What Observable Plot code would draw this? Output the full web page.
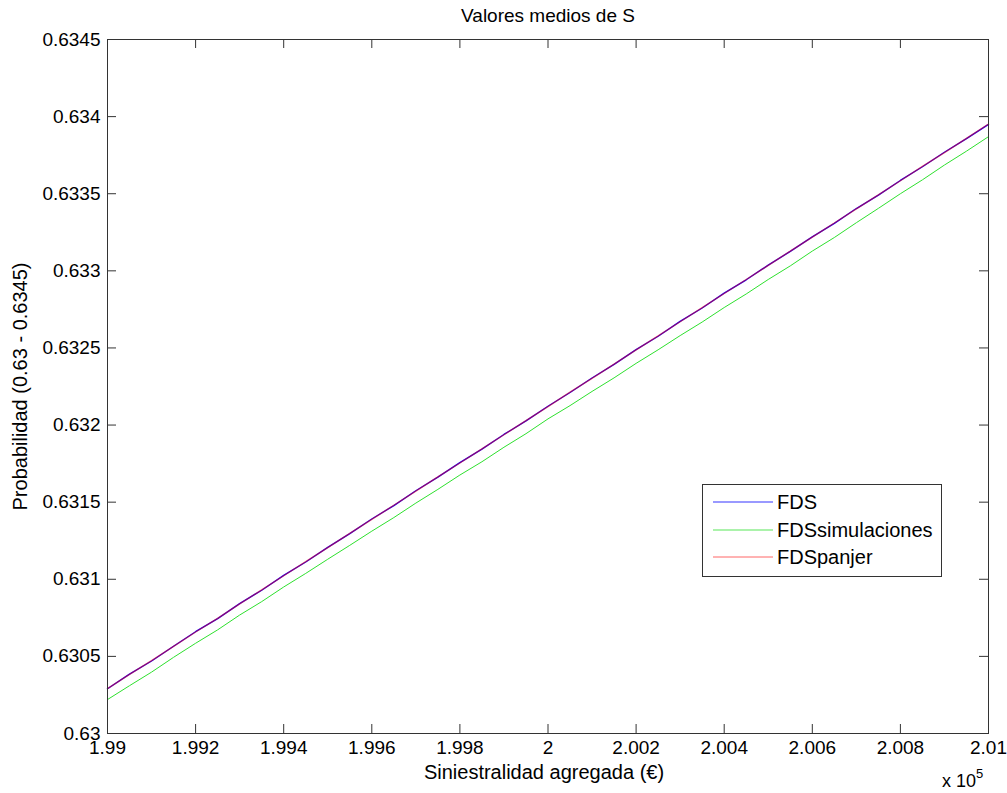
<!DOCTYPE html>
<html>
<head>
<meta charset="utf-8">
<script src="https://cdn.jsdelivr.net/npm/d3@7"></script>
<script src="https://cdn.jsdelivr.net/npm/@observablehq/plot@0.6"></script>
<style>
  html, body { margin: 0; padding: 0; background: #fff; }
</style>
</head>
<body>
<div id="chart"></div>
<script>
// ---- data ----
const title = "Valores medios de S";
const xLabel = "Siniestralidad agregada (€)";
const yLabel = "Probabilidad (0.63 - 0.6345)";
const seriesNames = ["FDS", "FDSsimulaciones", "FDSpanjer"];
const seriesColors = ["#0000ff", "#2ee02e", "#ff0000"];

const siniestralidad = [
  199000, 199050, 199100, 199150, 199200, 199250, 199300, 199350, 199400, 199450,
  199500, 199550, 199600, 199650, 199700, 199750, 199800, 199850, 199900, 199950,
  200000, 200050, 200100, 200150, 200200, 200250, 200300, 200350, 200400, 200450,
  200500, 200550, 200600, 200650, 200700, 200750, 200800, 200850, 200900, 200950,
  201000
];
const fds = [
  0.630290, 0.630385, 0.630470, 0.630566, 0.630660, 0.630745, 0.630842, 0.630929, 0.631025, 0.631112,
  0.631207, 0.631296, 0.631391, 0.631478, 0.631574, 0.631662, 0.631756, 0.631844, 0.631939, 0.632027,
  0.632122, 0.632211, 0.632305, 0.632393, 0.632489, 0.632576, 0.632672, 0.632759, 0.632855, 0.632942,
  0.633037, 0.633126, 0.633220, 0.633308, 0.633404, 0.633491, 0.633586, 0.633675, 0.633769, 0.633857,
  0.633950
];
const fdsSimulaciones = [
  0.630220, 0.630310, 0.630398, 0.630494, 0.630585, 0.630672, 0.630768, 0.630855, 0.630950, 0.631038,
  0.631130, 0.631220, 0.631312, 0.631400, 0.631494, 0.631583, 0.631676, 0.631762, 0.631856, 0.631944,
  0.632040, 0.632126, 0.632218, 0.632306, 0.632400, 0.632488, 0.632580, 0.632668, 0.632762, 0.632850,
  0.632944, 0.633032, 0.633128, 0.633216, 0.633312, 0.633405, 0.633500, 0.633590, 0.633686, 0.633776,
  0.633870
];
const fdsPanjer = [
  0.630291, 0.630383, 0.630472, 0.630565, 0.630658, 0.630747, 0.630840, 0.630931, 0.631023, 0.631114,
  0.631205, 0.631298, 0.631389, 0.631480, 0.631572, 0.631664, 0.631754, 0.631846, 0.631937, 0.632029,
  0.632120, 0.632213, 0.632303, 0.632395, 0.632487, 0.632578, 0.632670, 0.632761, 0.632853, 0.632944,
  0.633035, 0.633128, 0.633218, 0.633310, 0.633402, 0.633493, 0.633584, 0.633677, 0.633767, 0.633859,
  0.633952
];
const xTicks = [199000, 199200, 199400, 199600, 199800, 200000, 200200, 200400, 200600, 200800, 201000];
const yTicks = [0.63, 0.6305, 0.631, 0.6315, 0.632, 0.6325, 0.633, 0.6335, 0.634, 0.6345];
const xDomain = [199000, 201000];
const yDomain = [0.63, 0.6345];

// ---- build ----
const W = 1007, H = 793;
const mT = 39, mR = 19, mB = 60, mL = 107;
const fw = W - mL - mR, fh = H - mT - mB;
const tickLen = 9;
const font = "'Liberation Sans', Arial, Helvetica, sans-serif";
const axisColor = "#333";

const rows = (ys) => siniestralidad.map((x, i) => ({x, y: ys[i]}));
const fmtX = d => String(+(d / 1e5).toFixed(3));
const fmtY = d => String(+d.toFixed(4));

const chart = Plot.plot({
  width: W, height: H,
  marginTop: mT, marginRight: mR, marginBottom: mB, marginLeft: mL,
  style: {fontFamily: font, fontSize: "19px", color: "#000", background: "#fff"},
  x: {domain: xDomain, label: null},
  y: {domain: yDomain, label: null},
  marks: [
    Plot.axisX({ticks: xTicks, tickFormat: fmtX, tickSize: 0, tickPadding: 7, fontSize: 19, label: null}),
    Plot.axisY({ticks: yTicks, tickFormat: fmtY, tickSize: 0, tickPadding: 7, fontSize: 19, label: null}),
    Plot.tickX(xTicks, {x: d => d, insetTop: fh - tickLen, stroke: axisColor}),
    Plot.tickX(xTicks, {x: d => d, insetBottom: fh - tickLen, stroke: axisColor}),
    Plot.tickY(yTicks, {y: d => d, insetRight: fw - tickLen, stroke: axisColor}),
    Plot.tickY(yTicks, {y: d => d, insetLeft: fw - tickLen, stroke: axisColor}),
    Plot.line(rows(fds), {x: "x", y: "y", stroke: seriesColors[0], strokeWidth: 1.4}),
    Plot.line(rows(fdsSimulaciones), {x: "x", y: "y", stroke: seriesColors[1], strokeWidth: 1}),
    Plot.line(rows(fdsPanjer), {x: "x", y: "y", stroke: seriesColors[2], strokeWidth: 1.4, strokeOpacity: 0.5}),
    Plot.frame({stroke: axisColor}),
    Plot.text([title], {frameAnchor: "top", lineAnchor: "bottom", dy: -18, fontSize: 19, fill: "#000"}),
    Plot.text([xLabel], {frameAnchor: "bottom", lineAnchor: "top", dy: 31, dx: -4, fontSize: 20, fill: "#000"}),
    Plot.text([yLabel], {frameAnchor: "left", textAnchor: "middle", rotate: -90, dx: -87, fontSize: 20, fill: "#000"})
  ]
});
document.getElementById("chart").appendChild(chart);

// ---- exponent and legend ----
const svg = d3.select(chart);
const exp = svg.append("text")
  .attr("x", 942).attr("y", 787).attr("text-anchor", "start")
  .attr("font-family", font).attr("font-size", 18).attr("fill", "#000");
exp.append("tspan").text("x 10");
exp.append("tspan").attr("font-size", 13).attr("dy", -9).text("5");

const lg = svg.append("g").attr("font-family", font).attr("font-size", 20).attr("text-anchor", "start");
lg.append("rect").attr("x", 702.5).attr("y", 484.5).attr("width", 239).attr("height", 92)
  .attr("fill", "#fff").attr("stroke", axisColor);
const rowY = [502, 530, 557];
seriesNames.forEach((name, i) => {
  lg.append("line").attr("x1", 713).attr("x2", 773).attr("y1", rowY[i]).attr("y2", rowY[i])
    .attr("stroke", seriesColors[i]).attr("stroke-width", 1).attr("stroke-opacity", i === 2 ? 0.6 : 0.8);
  lg.append("text").attr("x", 777).attr("y", rowY[i]).attr("dy", "0.35em").attr("fill", "#000").text(name);
});
</script>
</body>
</html>
